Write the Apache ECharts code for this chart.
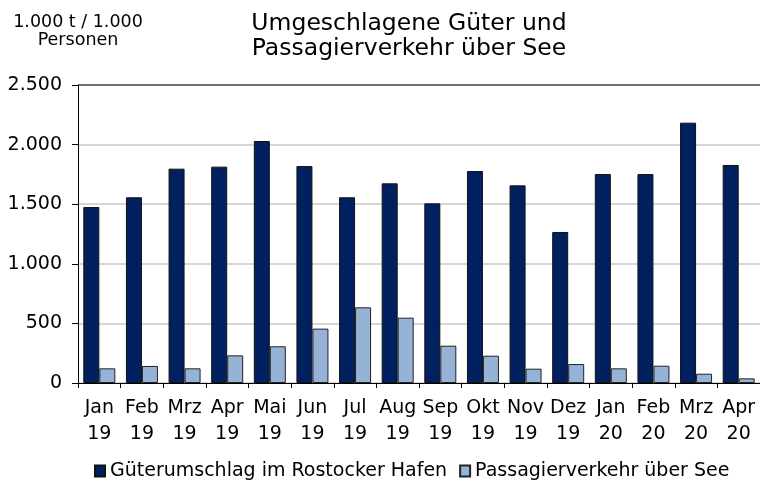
<!DOCTYPE html>
<html>
<head>
<meta charset="utf-8">
<script src="https://cdn.jsdelivr.net/npm/echarts@6/dist/echarts.min.js"></script>
<style>
  html, body { margin: 0; padding: 0; background: #fff; }
  #main { width: 760px; height: 484px; }
</style>
</head>
<body>
<div id="main"></div>
<script>
var monate = ['Jan\n19', 'Feb\n19', 'Mrz\n19', 'Apr\n19', 'Mai\n19', 'Jun\n19', 'Jul\n19', 'Aug\n19',
  'Sep\n19', 'Okt\n19', 'Nov\n19', 'Dez\n19', 'Jan\n20', 'Feb\n20', 'Mrz\n20', 'Apr\n20'];
var gueter = [1476, 1558, 1798, 1815, 2030, 1820, 1558, 1675, 1507, 1778, 1658, 1267, 1753, 1753, 2184, 1829];
var passagiere = [123, 143, 123, 232, 308, 456, 635, 548, 313, 229, 120, 159, 123, 145, 78, 39];

var font = 'DejaVu Sans, Liberation Sans, Arial, sans-serif';

function punkt(v) {
  return String(v).replace(/\B(?=(\d{3})+(?!\d))/g, '.');
}

var dom = document.getElementById('main');
var myChart = echarts.init(dom, null, { renderer: 'canvas' });

var option = {
  animation: false,
  title: [
    {
      text: 'Umgeschlagene Güter und\nPassagierverkehr über See',
      left: 409,
      top: 11,
      padding: 0,
      textAlign: 'center',
      textStyle: { fontFamily: font, fontSize: 23.5, fontWeight: 'normal', color: '#000', lineHeight: 25 }
    },
    {
      text: '1.000 t / 1.000\nPersonen',
      left: 78,
      top: 13,
      padding: 0,
      textAlign: 'center',
      textStyle: { fontFamily: font, fontSize: 17.5, fontWeight: 'normal', color: '#000', lineHeight: 18.5 }
    }
  ],
  legend: {
    top: 455,
    left: 89,
    itemWidth: 10,
    itemHeight: 11,
    itemGap: 12,
    icon: 'rect',
    textStyle: { fontFamily: font, fontSize: 19, color: '#000', lineHeight: 22 },
    data: ['Güterumschlag im Rostocker Hafen', 'Passagierverkehr über See']
  },
  grid: {
    left: 78,
    right: -1,
    top: 85,
    bottom: 101,
    containLabel: false
  },
  xAxis: {
    type: 'category',
    data: monate,
    axisLine: { lineStyle: { color: '#000', width: 1 } },
    axisTick: { show: true, length: 5, lineStyle: { color: '#000' } },
    axisLabel: {
      interval: 0,
      margin: 12,
      fontFamily: font,
      fontSize: 19,
      lineHeight: 26,
      color: '#000'
    }
  },
  yAxis: {
    type: 'value',
    min: 0,
    max: 2500,
    interval: 500,
    axisLine: { show: true, lineStyle: { color: '#000', width: 1 } },
    axisTick: { show: true, inside: false, length: 6, lineStyle: { color: '#000' } },
    axisLabel: {
      margin: 16,
      fontFamily: font,
      fontSize: 19,
      color: '#000',
      formatter: punkt
    },
    splitLine: {
      show: true,
      lineStyle: { color: ['#c8c8c8', '#c8c8c8', '#c8c8c8', '#c8c8c8', '#c8c8c8', '#404040'], width: 1.5 }
    }
  },
  series: [
    {
      name: 'Güterumschlag im Rostocker Hafen',
      type: 'bar',
      barWidth: 16,
      barGap: '0%',
      itemStyle: { color: '#002060', borderColor: '#111', borderWidth: 1 },
      data: gueter
    },
    {
      name: 'Passagierverkehr über See',
      type: 'bar',
      barWidth: 16,
      barGap: '0%',
      itemStyle: { color: '#95b3d7', borderColor: '#222', borderWidth: 1 },
      data: passagiere
    }
  ]
};

if (option && typeof option === 'object') {
  myChart.setOption(option);
}

window.addEventListener('resize', myChart.resize);
</script>
</body>
</html>
